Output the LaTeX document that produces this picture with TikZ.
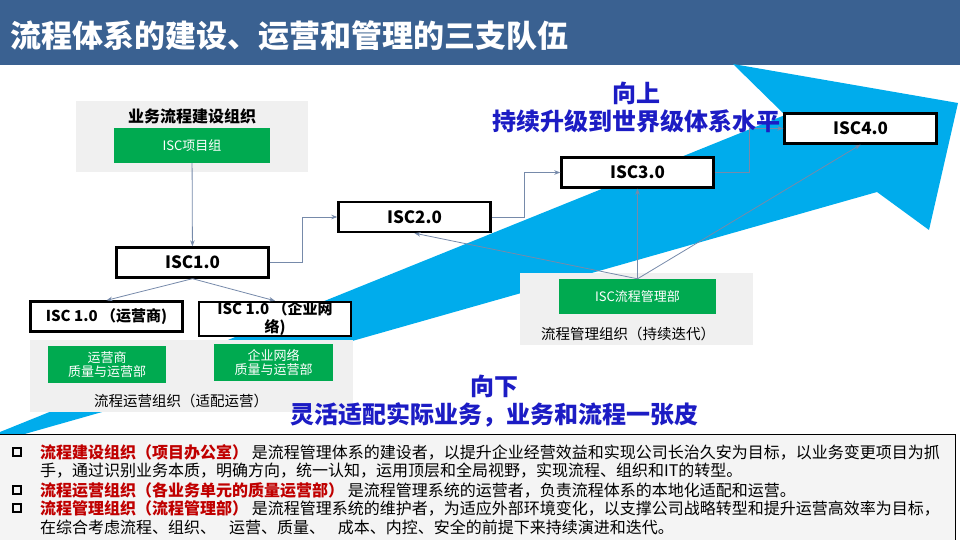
\documentclass[tikz,border=0pt]{standalone}
\usepackage{fontspec}
\setmainfont{Noto Sans CJK SC}
\usetikzlibrary{arrows.meta}

\definecolor{titlebar}{RGB}{58,97,145}
\definecolor{arrowblue}{RGB}{0,172,236}
\definecolor{boxgreen}{RGB}{0,170,80}
\definecolor{groupgrey}{RGB}{240,240,240}
\definecolor{linkgrey}{RGB}{118,138,170}
\definecolor{headblue}{RGB}{28,28,196}
\definecolor{darkred}{RGB}{192,0,0}
\definecolor{notegrey}{RGB}{244,244,244}

\tikzset{
  stage/.style={draw, fill=white, line width=2.4pt, inner sep=0pt,
    minimum width=152pt, minimum height=30pt,
    font=\fontsize{17}{19}\selectfont\bfseries},
  unit/.style={stage, font=\fontsize{15}{18}\selectfont\bfseries, align=center},
  group/.style={fill=groupgrey, inner sep=0pt},
  team/.style={fill=boxgreen, text=white, inner sep=0pt, align=center,
    font=\fontsize{13}{13.5}\selectfont},
  link/.style={draw=linkgrey, line width=0.8pt, -{Stealth[length=6pt,width=4.5pt]}},
  motto/.style={text=headblue, align=center, font=\fontsize{24}{28}\selectfont\bfseries},
  bulletbox/.style={draw, line width=1.6pt, minimum size=8pt, inner sep=0pt},
  noteline/.style={anchor=west, inner sep=0pt, font=\fontsize{16}{19}\selectfont},
}

\begin{document}
\begin{tikzpicture}[x=1pt, y=-1pt]
  \useasboundingbox (0,0) rectangle (960,540);

  % bandeau du titre
  \fill[titlebar] (0,0) rectangle (960,65);
  \node[anchor=west, text=white, inner sep=0pt, font=\fontsize{31}{34}\selectfont\bfseries]
    (title) at (10,36) {流程体系的建设、运营和管理的三支队伍};

  % grande flèche
  \fill[arrowblue] (0,432) -- (785,115) -- (733,64) -- (958,103)
    -- (929,230) -- (877,192) -- (0,441) -- cycle;

  % groupes gris
  \node[group, minimum width=232pt, minimum height=71pt] (buildgrp) at (192,136.5) {};
  \node[group, minimum width=323pt, minimum height=72pt] (opsgrp) at (191.5,376) {};
  \node[group, minimum width=233pt, minimum height=72pt] (mgmtgrp) at (636.5,309) {};

  \node[font=\fontsize{16}{18}\selectfont\bfseries] (buildlbl) at (192,116) {业务流程建设组织};
  \node[font=\fontsize{14.5}{16}\selectfont] (opslbl) at (181,401) {流程运营组织（适配运营）};
  \node[font=\fontsize{14.5}{16}\selectfont] (mgmtlbl) at (628,334) {流程管理组织（持续迭代）};

  % équipes vertes
  \node[team, minimum width=156pt, minimum height=35pt] (proj) at (192,145.5) {ISC项目组};
  \node[team, minimum width=118pt, minimum height=37pt] (opsteam) at (107,364.5) {运营商\\质量与运营部};
  \node[team, minimum width=119pt, minimum height=37pt] (netteam) at (273.5,362.5) {企业网络\\质量与运营部};
  \node[team, minimum width=157pt, minimum height=35pt] (mgmt) at (637.5,296.5) {ISC流程管理部};

  % étapes ISC
  \node[stage] (isc1) at (192.5,262.5) {ISC1.0};
  \node[stage] (isc2) at (414.5,217) {ISC2.0};
  \node[stage] (isc3) at (637.5,172.5) {ISC3.0};
  \node[stage] (isc4) at (860.5,128.5) {ISC4.0};
  \node[unit] (ops1) at (106.5,316.5) {ISC 1.0 （运营商)};
  \node[unit, minimum height=33pt] (ops2) at (275,319) {ISC 1.0 （企业网\\络)};

  % liaisons
  \draw[link] (proj) -- (isc1);
  \draw[link] (isc1.east) -- ++(33,0) |- (isc2.west);
  \draw[link] (isc2.east) -- ++(33,0) |- (isc3.west);
  \draw[link] (isc3.east) -- ++(35,0) |- (isc4.west);
  \draw[link] (isc1.south) -- (ops1.north);
  \draw[link] (isc1.south) -- (ops2.north);
  \draw[link] (mgmt.north) -- (isc2.south);
  \draw[link] (mgmt.north) -- (isc3.south);
  \draw[link] (mgmt.north) -- (isc4.south);

  % devises
  \node[motto] (up) at (636,107) {向上\\持续升级到世界级体系水平};
  \node[motto] (down) at (494,401) {向下\\灵活适配实际业务，业务和流程一张皮};

  % encadré du bas
  \filldraw[fill=notegrey, draw=black, line width=0.6pt] (-5,434) rectangle (955,548);
  \node[bulletbox] (b1) at (17,452) {};
  \node[bulletbox] (b2) at (17,490) {};
  \node[bulletbox] (b3) at (17,508) {};
  \node[noteline] (n1) at (40,452)
    {\textcolor{darkred}{\bfseries 流程建设组织（项目办公室）} 是流程管理体系的建设者，以提升企业经营效益和实现公司长治久安为目标，以业务变更项目为抓};
  \node[noteline] (n2) at (40,471)
    {手，通过识别业务本质，明确方向，统一认知，运用顶层和全局视野，实现流程、组织和IT的转型。};
  \node[noteline] (n3) at (40,490)
    {\textcolor{darkred}{\bfseries 流程运营组织（各业务单元的质量运营部）} 是流程管理系统的运营者，负责流程体系的本地化适配和运营。};
  \node[noteline] (n4) at (40,508)
    {\textcolor{darkred}{\bfseries 流程管理组织（流程管理部）} 是流程管理系统的维护者，为适应外部环境变化，以支撑公司战略转型和提升运营高效率为目标，};
  \node[noteline] (n5) at (40,527)
    {在综合考虑流程、组织、\hspace{0.8em}运营、质量、\hspace{0.8em}成本、内控、安全的前提下来持续演进和迭代。};
\end{tikzpicture}
\end{document}
